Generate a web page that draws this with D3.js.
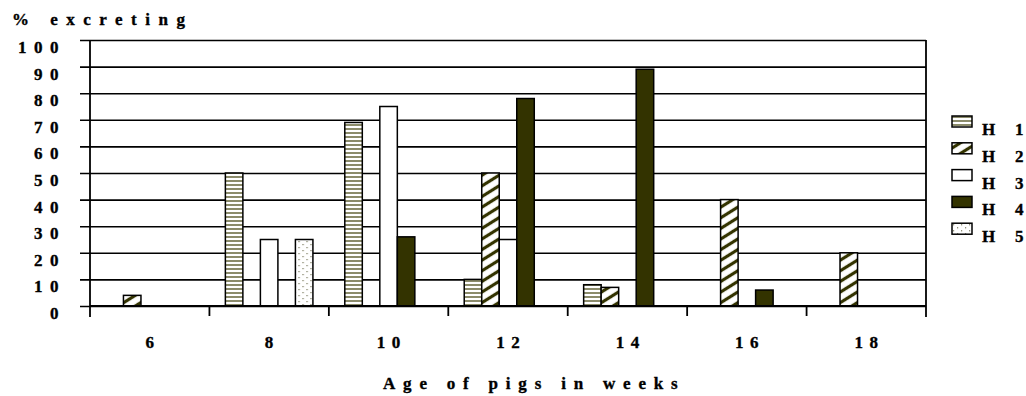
<!DOCTYPE html>
<html>
<head>
<meta charset="utf-8">
<script src="https://cdn.jsdelivr.net/npm/d3@7"></script>
<style>
  html, body { margin: 0; padding: 0; background: #fff; }
  svg { display: block; }
  svg text { font-family: "Liberation Serif", "Times New Roman", "DejaVu Serif", serif; font-weight: bold; fill: #000; stroke: #000; stroke-width: 0.35px; }
</style>
</head>
<body>
<svg id="chart" width="1026" height="396"></svg>
<script>
// Age groups (weeks) and the share of pigs excreting, per herd
const ages = ["6", "8", "10", "12", "14", "16", "18"];
const herds = ["1", "2", "3", "4", "5"];
const h1 = [0, 50, 69, 10, 8, 0, 0];
const h2 = [4, 0, 0, 50, 7, 40, 20];
const h3 = [0, 25, 75, 25, 0, 0, 0];
const h4 = [0, 0, 26, 78, 89, 6, 0];
const h5 = [0, 25, 0, 0, 0, 0, 0];
const yTicks = [0, 10, 20, 30, 40, 50, 60, 70, 80, 90, 100];

const seriesValues = [h1, h2, h3, h4, h5];

const svg = d3.select("#chart");
const plotLeft = 90, plotRight = 926, plotTop = 40, plotBottom = 306;

// Fill patterns for each herd
const defs = svg.append("defs");

const pH1 = defs.append("pattern").attr("id", "fill-h1")
  .attr("patternUnits", "userSpaceOnUse").attr("width", 6).attr("height", 4);
pH1.append("rect").attr("width", 6).attr("height", 4).attr("fill", "#fff");
pH1.append("line").attr("x1", 0).attr("x2", 6).attr("y1", 1).attr("y2", 1)
  .attr("stroke", "#6e6e45").attr("stroke-width", 1.6);

const pH2 = defs.append("pattern").attr("id", "fill-h2")
  .attr("patternUnits", "userSpaceOnUse").attr("width", 10).attr("height", 9)
  .attr("patternTransform", "rotate(-32)");
pH2.append("rect").attr("width", 10).attr("height", 9).attr("fill", "#fff");
pH2.append("line").attr("x1", 0).attr("x2", 10).attr("y1", 4.5).attr("y2", 4.5)
  .attr("stroke", "#333300").attr("stroke-width", 3.2);

const pH5 = defs.append("pattern").attr("id", "fill-h5")
  .attr("patternUnits", "userSpaceOnUse").attr("width", 8).attr("height", 6);
pH5.append("rect").attr("width", 8).attr("height", 6).attr("fill", "#fff");
pH5.append("rect").attr("x", 1).attr("y", 1).attr("width", 1.2).attr("height", 1.2).attr("fill", "#77775a");
pH5.append("rect").attr("x", 5).attr("y", 4).attr("width", 1.2).attr("height", 1.2).attr("fill", "#77775a");

const fills = ["url(#fill-h1)", "url(#fill-h2)", "#ffffff", "#333300", "url(#fill-h5)"];

// Scales
const x0 = d3.scaleBand().domain(ages).range([plotLeft, plotRight]).padding(0);
const x1 = d3.scaleBand().domain(herds).range([0, x0.bandwidth()])
  .paddingInner(0).paddingOuter(0.91);
const y = d3.scaleLinear().domain([0, 100]).range([plotBottom, plotTop]);

// Horizontal gridlines with value labels
const yAxis = d3.axisLeft(y).tickValues(yTicks).tickSize(plotRight - plotLeft + 10).tickPadding(14);
const gy = svg.append("g").attr("transform", `translate(${plotRight},0)`).call(yAxis);
gy.select(".domain").remove();
gy.selectAll(".tick line").attr("stroke", "#000").attr("stroke-width", 1.6);
gy.selectAll(".tick text")
  .attr("font-size", 17).attr("letter-spacing", 7.5).attr("dy", 12.5).attr("dx", 0)
  .attr("font-family", null);

// Bars
const groups = svg.append("g").selectAll("g")
  .data(ages).join("g")
  .attr("transform", d => `translate(${x0(d)},0)`);

groups.selectAll("rect")
  .data((age, i) => herds.map((h, s) => ({ herd: h, s, v: seriesValues[s][i] })).filter(d => d.v > 0))
  .join("rect")
  .attr("x", d => x1(d.herd))
  .attr("width", x1.bandwidth())
  .attr("y", d => y(d.v))
  .attr("height", d => y(0) - y(d.v))
  .attr("fill", d => fills[d.s])
  .attr("stroke", "#000")
  .attr("stroke-width", 1.5);

// Category axis along the baseline
const xAxis = d3.axisBottom(x0).tickSize(0).tickPadding(0);
const gx = svg.append("g").attr("transform", `translate(0,${plotBottom})`).call(xAxis);
gx.select(".domain").remove();
gx.selectAll(".tick text")
  .attr("font-size", 17).attr("letter-spacing", 6.5).attr("dx", 3.2).attr("y", 42).attr("dy", 0)
  .attr("font-family", null);

// Baseline, category separators, left axis and right frame
const frame = svg.append("g").attr("stroke", "#000").attr("stroke-width", 1.8);
frame.append("line").attr("x1", plotLeft).attr("x2", plotRight).attr("y1", y(0)).attr("y2", y(0)).attr("stroke-width", 2);
frame.append("line").attr("x1", plotLeft).attr("x2", plotLeft).attr("y1", y(100)).attr("y2", plotBottom + 11);
frame.append("line").attr("x1", plotRight).attr("x2", plotRight).attr("y1", y(100)).attr("y2", plotBottom + 11);
frame.selectAll("line.sep")
  .data(ages.slice(1)).join("line").attr("class", "sep")
  .attr("x1", d => x0(d)).attr("x2", d => x0(d))
  .attr("y1", plotBottom).attr("y2", plotBottom + 10);

// Axis titles
svg.append("text").attr("x", 12).attr("y", 25)
  .attr("font-size", 17).attr("letter-spacing", 8.5)
  .text("% excreting");
svg.append("text").attr("x", 383).attr("y", 389)
  .attr("font-size", 17).attr("letter-spacing", 7.8)
  .text("Age of pigs in weeks");

// Legend: swatch, then "H" and the herd number in two columns
const legend = svg.append("g").selectAll("g")
  .data(herds).join("g")
  .attr("transform", (d, i) => `translate(952,${116 + i * 26.8})`);
legend.append("rect")
  .attr("width", 20).attr("height", 11)
  .attr("fill", (d, i) => fills[i])
  .attr("stroke", "#000").attr("stroke-width", 1.5);
const legendText = legend.append("text").attr("y", 19).attr("font-size", 17);
legendText.append("tspan").attr("x", 30).text("H ");
legendText.append("tspan").attr("x", 63).text(d => d);
</script>
</body>
</html>
